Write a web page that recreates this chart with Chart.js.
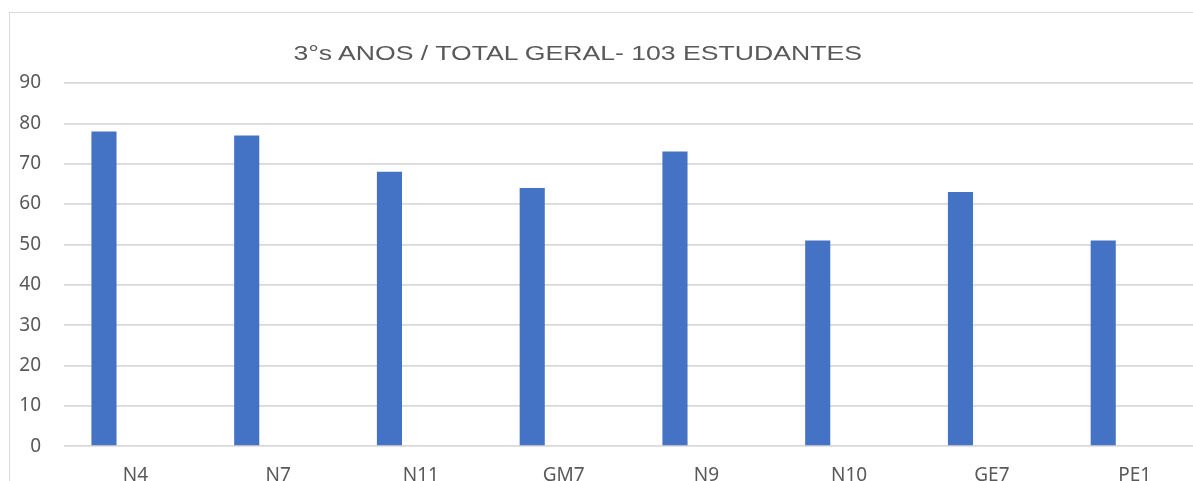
<!DOCTYPE html>
<html>
<head>
<meta charset="utf-8">
<script src="https://cdn.jsdelivr.net/npm/chart.js@4/dist/chart.umd.min.js"></script>
<style>
  html, body { margin: 0; padding: 0; background: #fff; overflow: hidden; width: 1193px; height: 481px; }
  #frame { position: absolute; left: 9px; top: 12px; width: 1240px; height: 520px; border: 1px solid #d9d9d9; background: #fff; }
  #title { position: absolute; left: 0; top: 42px; width: 1155px; text-align: center; font-family: "Liberation Sans", Arial, sans-serif; font-size: 20px; color: #595959; white-space: nowrap; transform: scaleX(1.33); transform-origin: 577px 0; }
  canvas { position: absolute; left: 0; top: 0; }
</style>
</head>
<body>
<div id="frame"><canvas id="c" width="1240" height="520"></canvas></div>
<div id="title">3°s ANOS / TOTAL GERAL- 103 ESTUDANTES</div>
<script>
const categories = ["N4", "N7", "N11", "GM7", "N9", "N10", "GE7", "PE1"];
const serie1 = [78, 77, 68, 64, 73, 51, 63, 51];
const serie2 = [null, null, null, null, null, null, null, null];
const yTicks = [0, 10, 20, 30, 40, 50, 60, 70, 80, 90];

const tickFont = { family: "'Noto Sans', 'Open Sans', sans-serif", size: 19 };

new Chart(document.getElementById('c'), {
  type: 'bar',
  data: {
    labels: categories,
    datasets: [
      { label: 'Série1', data: serie1, backgroundColor: '#4472C4', borderWidth: 0, categoryPercentage: 0.88, barPercentage: 0.4 },
      { label: 'Série2', data: serie2, backgroundColor: '#ED7D31', borderWidth: 0, categoryPercentage: 0.88, barPercentage: 0.4 }
    ]
  },
  options: {
    responsive: false,
    animation: false,
    layout: { padding: { left: 0, right: 44, top: 70, bottom: 28 } },
    plugins: { legend: { display: false }, title: { display: false }, tooltip: { enabled: false } },
    scales: {
      x: {
        grid: { display: false, drawTicks: false },
        border: { display: false },
        ticks: { color: '#595959', font: tickFont, padding: 18, maxRotation: 0, autoSkip: false }
      },
      y: {
        min: 0, max: 90,
        afterFit: (s) => { s.width = 54; },
        afterBuildTicks: (s) => { s.ticks = yTicks.map(v => ({ value: v })); },
        grid: { color: '#d9d9d9', lineWidth: 1.7, drawTicks: false },
        border: { display: false },
        ticks: { color: '#595959', font: tickFont, padding: 23, stepSize: 10 }
      }
    }
  }
});
</script>
</body>
</html>
